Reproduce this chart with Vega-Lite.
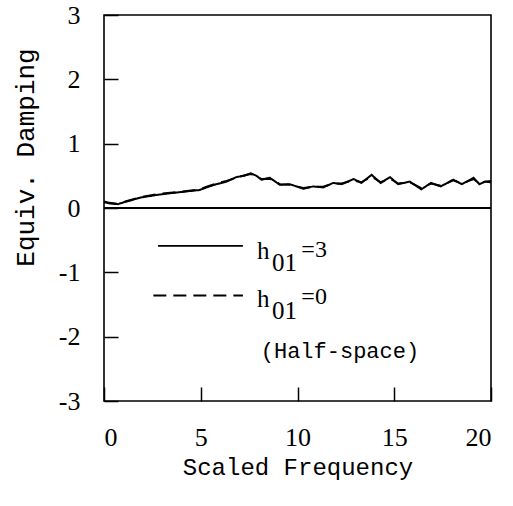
{
  "$schema": "https://vega.github.io/schema/vega-lite/v6.json",
  "width": 387,
  "height": 386,
  "autosize": "none",
  "padding": {"left": 104, "top": 15, "right": 22, "bottom": 105},
  "background": "white",
  "config": {
    "view": {"stroke": "black", "strokeWidth": 1.6},
    "axis": {
      "grid": false,
      "domain": false,
      "tickColor": "black",
      "tickWidth": 1.5,
      "tickSize": 14,
      "offset": -14,
      "labelFont": "Liberation Serif",
      "labelFontSize": 26,
      "labelColor": "black",
      "labelExpr": "datum.value < 0 ? '-' + abs(datum.value) : '' + datum.value",
      "titleFont": "Liberation Mono",
      "titleFontSize": 24,
      "titleFontWeight": "normal",
      "titleColor": "black"
    }
  },
  "datasets": {
    "curves": [
      {"f": 0.0, "d": 0.09, "s": "h01=3"}, {"f": 0.3, "d": 0.07, "s": "h01=3"}, {"f": 0.72, "d": 0.06, "s": "h01=3"},
      {"f": 1.15, "d": 0.1, "s": "h01=3"}, {"f": 1.93, "d": 0.165, "s": "h01=3"}, {"f": 2.88, "d": 0.21, "s": "h01=3"},
      {"f": 3.74, "d": 0.24, "s": "h01=3"}, {"f": 4.95, "d": 0.28, "s": "h01=3"}, {"f": 5.3, "d": 0.32, "s": "h01=3"},
      {"f": 5.8, "d": 0.37, "s": "h01=3"}, {"f": 6.33, "d": 0.41, "s": "h01=3"}, {"f": 6.84, "d": 0.48, "s": "h01=3"},
      {"f": 7.28, "d": 0.505, "s": "h01=3"}, {"f": 7.59, "d": 0.54, "s": "h01=3"}, {"f": 7.88, "d": 0.5, "s": "h01=3"},
      {"f": 8.14, "d": 0.44, "s": "h01=3"}, {"f": 8.57, "d": 0.47, "s": "h01=3"}, {"f": 9.09, "d": 0.36, "s": "h01=3"},
      {"f": 9.6, "d": 0.37, "s": "h01=3"}, {"f": 10.3, "d": 0.3, "s": "h01=3"}, {"f": 10.8, "d": 0.335, "s": "h01=3"},
      {"f": 11.33, "d": 0.32, "s": "h01=3"}, {"f": 11.84, "d": 0.39, "s": "h01=3"}, {"f": 12.28, "d": 0.37, "s": "h01=3"},
      {"f": 12.9, "d": 0.45, "s": "h01=3"}, {"f": 13.3, "d": 0.39, "s": "h01=3"}, {"f": 13.83, "d": 0.515, "s": "h01=3"},
      {"f": 14.3, "d": 0.39, "s": "h01=3"}, {"f": 14.78, "d": 0.48, "s": "h01=3"}, {"f": 15.2, "d": 0.37, "s": "h01=3"},
      {"f": 15.8, "d": 0.41, "s": "h01=3"}, {"f": 16.4, "d": 0.29, "s": "h01=3"}, {"f": 16.9, "d": 0.39, "s": "h01=3"},
      {"f": 17.4, "d": 0.335, "s": "h01=3"}, {"f": 18.05, "d": 0.44, "s": "h01=3"}, {"f": 18.5, "d": 0.37, "s": "h01=3"},
      {"f": 19.1, "d": 0.47, "s": "h01=3"}, {"f": 19.4, "d": 0.37, "s": "h01=3"}, {"f": 19.7, "d": 0.41, "s": "h01=3"},
      {"f": 20.0, "d": 0.4, "s": "h01=3"},
      {"f": 0.0, "d": 0.1, "s": "h01=0"}, {"f": 0.3, "d": 0.08, "s": "h01=0"}, {"f": 0.72, "d": 0.065, "s": "h01=0"},
      {"f": 1.15, "d": 0.105, "s": "h01=0"}, {"f": 1.93, "d": 0.17, "s": "h01=0"}, {"f": 2.88, "d": 0.22, "s": "h01=0"},
      {"f": 3.74, "d": 0.245, "s": "h01=0"}, {"f": 4.95, "d": 0.29, "s": "h01=0"}, {"f": 5.3, "d": 0.33, "s": "h01=0"},
      {"f": 5.8, "d": 0.38, "s": "h01=0"}, {"f": 6.33, "d": 0.42, "s": "h01=0"}, {"f": 6.84, "d": 0.47, "s": "h01=0"},
      {"f": 7.28, "d": 0.51, "s": "h01=0"}, {"f": 7.59, "d": 0.53, "s": "h01=0"}, {"f": 7.88, "d": 0.49, "s": "h01=0"},
      {"f": 8.14, "d": 0.45, "s": "h01=0"}, {"f": 8.57, "d": 0.455, "s": "h01=0"}, {"f": 9.09, "d": 0.37, "s": "h01=0"},
      {"f": 9.6, "d": 0.36, "s": "h01=0"}, {"f": 10.3, "d": 0.31, "s": "h01=0"}, {"f": 10.8, "d": 0.33, "s": "h01=0"},
      {"f": 11.33, "d": 0.33, "s": "h01=0"}, {"f": 11.84, "d": 0.38, "s": "h01=0"}, {"f": 12.28, "d": 0.38, "s": "h01=0"},
      {"f": 12.9, "d": 0.43, "s": "h01=0"}, {"f": 13.3, "d": 0.4, "s": "h01=0"}, {"f": 13.83, "d": 0.49, "s": "h01=0"},
      {"f": 14.3, "d": 0.4, "s": "h01=0"}, {"f": 14.78, "d": 0.46, "s": "h01=0"}, {"f": 15.2, "d": 0.38, "s": "h01=0"},
      {"f": 15.8, "d": 0.4, "s": "h01=0"}, {"f": 16.4, "d": 0.31, "s": "h01=0"}, {"f": 16.9, "d": 0.38, "s": "h01=0"},
      {"f": 17.4, "d": 0.345, "s": "h01=0"}, {"f": 18.05, "d": 0.43, "s": "h01=0"}, {"f": 18.5, "d": 0.38, "s": "h01=0"},
      {"f": 19.1, "d": 0.45, "s": "h01=0"}, {"f": 19.4, "d": 0.38, "s": "h01=0"}, {"f": 19.7, "d": 0.41, "s": "h01=0"},
      {"f": 20.0, "d": 0.42, "s": "h01=0"}
    ],
    "keySamples": [
      {"x": 2.79, "x2": 7.18, "y": -0.59, "s": "h01=3"},
      {"x": 2.55, "x2": 7.18, "y": -1.36, "s": "h01=0"}
    ],
    "keyMain": [
      {"x": 7.91, "y": -0.79, "t": "h"},
      {"x": 7.91, "y": -1.54, "t": "h"}
    ],
    "keySub": [
      {"x": 8.68, "y": -0.98, "t": "01"},
      {"x": 8.68, "y": -1.73, "t": "01"}
    ],
    "keySup": [
      {"x": 10.2, "y": -0.76, "t": "=3"},
      {"x": 10.2, "y": -1.49, "t": "=0"}
    ],
    "notes": [
      {"x": 8.1, "y": -2.33, "t": "(Half-space)"}
    ]
  },
  "layer": [
    {
      "data": {"name": "curves"},
      "mark": {"type": "line", "color": "black", "strokeWidth": 2},
      "encoding": {
        "x": {
          "field": "f", "type": "quantitative",
          "scale": {"domain": [0, 20], "nice": false},
          "axis": {"values": [0, 5, 10, 15, 20], "title": "Scaled Frequency", "titlePadding": 5, "labelPadding": 23}
        },
        "y": {
          "field": "d", "type": "quantitative",
          "scale": {"domain": [-3, 3], "nice": false},
          "axis": {"values": [-3, -2, -1, 0, 1, 2, 3], "title": "Equiv. Damping", "titleFontSize": 26, "labelPadding": 24, "titleY": 142, "titleX": -80}
        },
        "strokeDash": {
          "field": "s", "type": "nominal",
          "scale": {"domain": ["h01=3", "h01=0"], "range": [[1, 0], [13, 7]]},
          "legend": null
        }
      }
    },
    {
      "data": {"values": [{"y": 0}]},
      "mark": {"type": "rule", "color": "black", "strokeWidth": 1.8},
      "encoding": {"y": {"field": "y", "type": "quantitative"}}
    },
    {
      "data": {"name": "keySamples"},
      "mark": {"type": "rule", "color": "black", "strokeWidth": 1.8},
      "encoding": {
        "x": {"field": "x", "type": "quantitative"},
        "x2": {"field": "x2"},
        "y": {"field": "y", "type": "quantitative"},
        "strokeDash": {"field": "s", "type": "nominal", "legend": null}
      }
    },
    {
      "data": {"name": "keyMain"},
      "mark": {"type": "text", "font": "Liberation Serif", "fontSize": 25, "align": "left", "baseline": "alphabetic", "color": "black"},
      "encoding": {
        "x": {"field": "x", "type": "quantitative"},
        "y": {"field": "y", "type": "quantitative"},
        "text": {"field": "t"}
      }
    },
    {
      "data": {"name": "keySub"},
      "mark": {"type": "text", "font": "Liberation Serif", "fontSize": 25, "align": "left", "baseline": "alphabetic", "color": "black"},
      "encoding": {
        "x": {"field": "x", "type": "quantitative"},
        "y": {"field": "y", "type": "quantitative"},
        "text": {"field": "t"}
      }
    },
    {
      "data": {"name": "keySup"},
      "mark": {"type": "text", "font": "Liberation Serif", "fontSize": 24, "align": "left", "baseline": "alphabetic", "color": "black"},
      "encoding": {
        "x": {"field": "x", "type": "quantitative"},
        "y": {"field": "y", "type": "quantitative"},
        "text": {"field": "t"}
      }
    },
    {
      "data": {"name": "notes"},
      "mark": {"type": "text", "font": "Liberation Mono", "fontSize": 22, "align": "left", "baseline": "alphabetic", "color": "black"},
      "encoding": {
        "x": {"field": "x", "type": "quantitative"},
        "y": {"field": "y", "type": "quantitative"},
        "text": {"field": "t"}
      }
    }
  ]
}
